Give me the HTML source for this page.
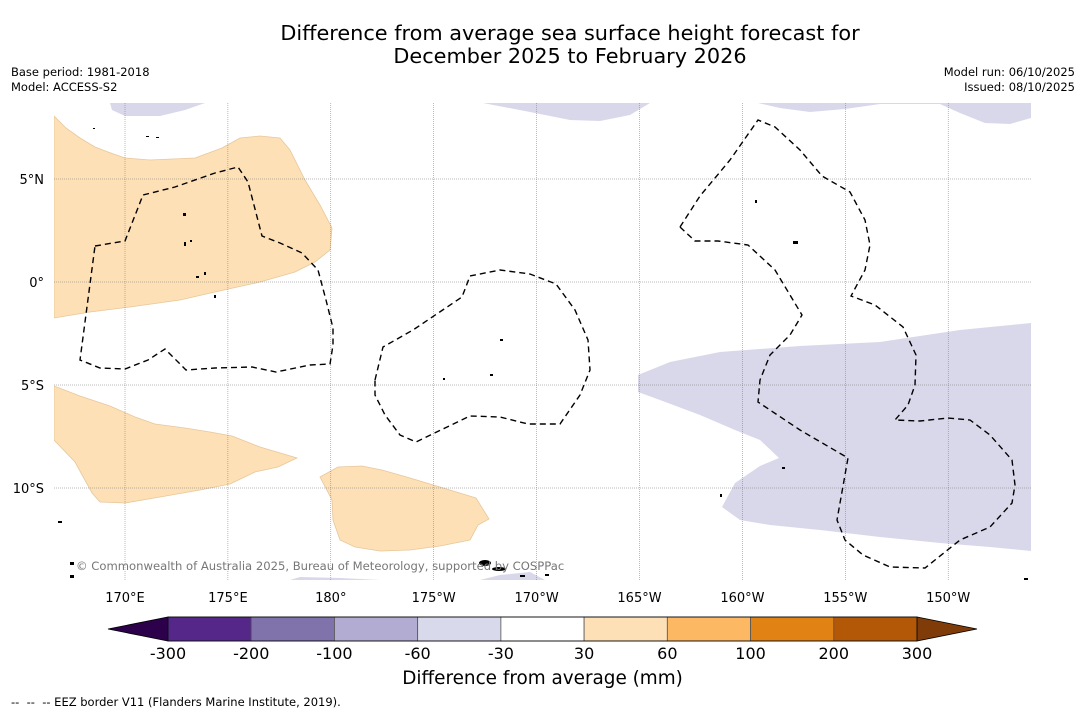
<!DOCTYPE html>
<html><head><meta charset="utf-8">
<style>
body{margin:0;background:#fff;font-family:"DejaVu Sans",sans-serif;}
#wrap{position:relative;width:1085px;height:713px;overflow:hidden;background:#fff}
.t{position:absolute;white-space:nowrap;color:#000;font-family:"DejaVu Sans",sans-serif}
</style></head>
<body>
<div id="wrap">
<div class="t" style="left:0;width:1140px;top:22px;text-align:center;font-size:20.8px;line-height:23px">Difference from average sea surface height forecast for<br>December 2025 to February 2026</div>
<div class="t" style="left:11px;top:65px;font-size:11.5px;line-height:15px">Base period: 1981-2018<br>Model: ACCESS-S2</div>
<div class="t" style="right:10px;top:65px;font-size:11.5px;line-height:15px;text-align:right">Model run: 06/10/2025<br>Issued: 08/10/2025</div>
<div class="t" style="left:11px;top:695px;font-size:11.5px">-- &nbsp;-- &nbsp;-- EEZ border V11 (Flanders Marine Institute, 2019).</div>
<svg id="svg" width="1085" height="713" style="position:absolute;left:0;top:0">
<g id="map">
<clipPath id="mc"><rect x="54" y="103" width="977" height="477"/></clipPath>
<g clip-path="url(#mc)">
<path fill="#fde0b6" stroke="#e8c79c" stroke-width="0.8" d="M54,116 L66,128 L80,138 L95,147 L108,152 L125,158 L150,160 L195,158 L222,148 L240,138 L260,136 L280,138 L290,150 L305,180 L320,205 L332,228 L330,250 L315,262 L295,272 L260,282 L215,292 L180,300 L130,307 L90,312 L54,318 Z"/>
<path fill="#fde0b6" stroke="#e8c79c" stroke-width="0.8" d="M54,386 L80,396 L110,406 L135,417 L155,424 L185,428 L210,432 L232,436 L260,447 L297,458 L278,467 L255,472 L230,484 L200,490 L160,497 L125,503 L100,502 L92,493 L75,462 L54,440 Z"/>
<path fill="#fde0b6" stroke="#e8c79c" stroke-width="0.8" d="M320,477 L338,467 L362,466 L382,470 L410,478 L440,487 L476,498 L489,519 L478,525 L470,540 L440,546 L410,550 L380,551 L355,547 L340,540 L333,520 L332,500 Z"/>
<path fill="#d8d8ea" d="M638,375 L670,362 L720,352 L800,346 L880,342 L960,330 L1031,323 L1031,551 L990,547 L940,543 L880,537 L820,530 L770,525 L740,520 L722,507 L735,483 L760,466 L779,458 L760,440 L735,430 L700,415 L660,400 L638,392 Z"/>
<path fill="#d8d8ea" d="M110,103 L205,103 L185,110 L160,116 L125,116 L112,110 Z"/>
<path fill="#d8d8ea" d="M483,103 L650,103 L630,115 L600,121 L570,120 L530,112 Z"/>
<path fill="#d8d8ea" d="M758,103 L1031,103 L1031,118 L1010,124 L985,123 L960,113 L940,104 L880,104 L845,109 L810,112 L780,108 Z"/>
<path fill="#d8d8ea" d="M290,580 L300,577 L340,578 L380,580 Z M480,580 L500,575 L530,572 L545,580 Z"/>
<g id="grid" stroke="#777" stroke-width="0.5" stroke-dasharray="1,1"></g>
<g fill="none" stroke="#000" stroke-width="1.4" stroke-dasharray="6,4">
<path d="M95,246 L125,241 L143,195 L175,187 L215,173 L238,167 L248,182 L262,236 L280,243 L302,253 L318,270 L326,300 L333,328 L333,345 L330,364 L310,365 L276,372 L252,367 L215,368 L186,370 L165,349 L148,360 L125,369 L100,368 L80,360 Z"/>
<path d="M375,380 L383,347 L413,330 L462,297 L470,276 L500,270 L530,274 L556,284 L575,310 L588,340 L590,370 L580,395 L560,424 L528,424 L500,417 L470,416 L445,428 L416,442 L400,435 L385,415 L375,395 Z"/>
<path d="M680,227 L700,196 L730,160 L758,120 L775,127 L800,150 L822,176 L850,192 L865,220 L870,245 L865,270 L851,296 L875,305 L903,327 L916,355 L915,385 L908,405 L895,420 L920,421 L948,418 L970,420 L990,435 L1012,460 L1015,485 L1012,503 L990,527 L960,540 L935,560 L925,568 L890,567 L863,555 L845,540 L837,520 L848,458 L800,430 L758,402 L760,380 L770,355 L790,335 L802,315 L790,295 L775,270 L748,245 L718,241 L695,241 Z"/>
</g>
<g fill="#000">
<rect x="146" y="136" width="3" height="1"/><rect x="156" y="137" width="3" height="1"/><rect x="93" y="128" width="2" height="1"/><rect x="183" y="213" width="3" height="3"/><rect x="184" y="242" width="2" height="4"/><rect x="190" y="240" width="2" height="2"/><rect x="196" y="276" width="3" height="2"/><rect x="204" y="272" width="2" height="3"/><rect x="214" y="295" width="2" height="3"/><rect x="500" y="339" width="3" height="2"/><rect x="755" y="200" width="2" height="3"/><rect x="793" y="241" width="5" height="3"/><rect x="782" y="467" width="3" height="2"/><rect x="58" y="521" width="4" height="2"/><rect x="70" y="562" width="4" height="3"/><rect x="70" y="575" width="4" height="3"/><ellipse cx="485" cy="563" rx="6" ry="3"/><ellipse cx="499" cy="569" rx="7" ry="2"/><rect x="520" y="575" width="5" height="2"/><rect x="545" y="574" width="4" height="2"/><rect x="443" y="378" width="2" height="2"/><rect x="490" y="374" width="3" height="2"/><rect x="720" y="494" width="2" height="3"/><rect x="1024" y="578" width="4" height="2"/>
</g>
</g>
</g>
<g id="axes"></g>
<g id="cbar"></g>
</svg>
<div class="t" style="left:76px;top:559px;font-size:11.6px;color:#777">© Commonwealth of Australia 2025, Bureau of Meteorology, supported by COSPPac</div>
<div class="t" style="left:0;width:1085px;text-align:center;top:668px;font-size:18.4px">Difference from average (mm)</div>
</div>
<script>
// map axes data
const lonTicks = [170,175,180,-175,-170,-165,-160,-155,-150];
const lonLabels = ["170°E","175°E","180°","175°W","170°W","165°W","160°W","155°W","150°W"];
const latTicks = [5,0,-5,-10];
const latLabels = ["5°N","0°","5°S","10°S"];
// colorbar data
const binEdges = ["-300","-200","-100","-60","-30","30","60","100","200","300"];
const binColors = ["#542788","#8073ac","#b2abd2","#d8daeb","#ffffff","#fee0b6","#fdb863","#e08214","#b35806"];
const extendColors = ["#2d004b","#7f3b08"];

const NS='http://www.w3.org/2000/svg';
function mk(t,a,p){const e=document.createElementNS(NS,t);for(const k in a)e.setAttribute(k,a[k]);p.appendChild(e);return e;}
const X0=54,X1=1031,Y0=103,Y1=580;
function lonX(l){const L=l<0?l+360:l;return 125+(L-170)*20.58;}
function latY(l){return 282-l*20.6;}
const grid=document.getElementById('grid'), axes=document.getElementById('axes');
lonTicks.forEach((l,i)=>{
  const x=lonX(l);
  const g=mk('line',{x1:x,x2:x,y1:Y0,y2:Y1},grid);
  
  
  const t=mk('text',{x:x,y:602,'text-anchor':'middle','font-size':13,'font-family':'DejaVu Sans, sans-serif'},axes);
  t.textContent=lonLabels[i];
  
  
});
latTicks.forEach((l,i)=>{
  const y=latY(l);
  const g=mk('line',{x1:X0,x2:X1,y1:y,y2:y},grid);
  
  
  const t=mk('text',{x:44,y:y+5,'text-anchor':'end','font-size':13,'font-family':'DejaVu Sans, sans-serif'},axes);
  t.textContent=latLabels[i];
  
  
});
// colorbar
const cb=document.getElementById('cbar');
const cx0=168,cx1=917,cy0=617,cy1=641,n=binColors.length,w=(cx1-cx0)/n;
const lt=mk('polygon',{points:`108,${(cy0+cy1)/2} ${cx0},${cy0} ${cx0},${cy1}`,fill:extendColors[0],stroke:'#000','stroke-width':0.8},cb);


const rt=mk('polygon',{points:`977,${(cy0+cy1)/2} ${cx1},${cy0} ${cx1},${cy1}`,fill:extendColors[1],stroke:'#000','stroke-width':0.8},cb);


binColors.forEach((c,i)=>{
  const r=mk('rect',{x:cx0+i*w,y:cy0,width:w,height:cy1-cy0,fill:c,stroke:'#555','stroke-width':0.8},cb);
  
  
});
mk('rect',{x:cx0,y:cy0,width:cx1-cx0,height:cy1-cy0,fill:'none',stroke:'#000','stroke-width':0.8},cb);
binEdges.forEach((s,i)=>{
  const t=mk('text',{x:cx0+i*w,y:659,'text-anchor':'middle','font-size':16,'font-family':'DejaVu Sans, sans-serif'},cb);
  t.textContent=s;
  
  
});
</script>
</body></html>
